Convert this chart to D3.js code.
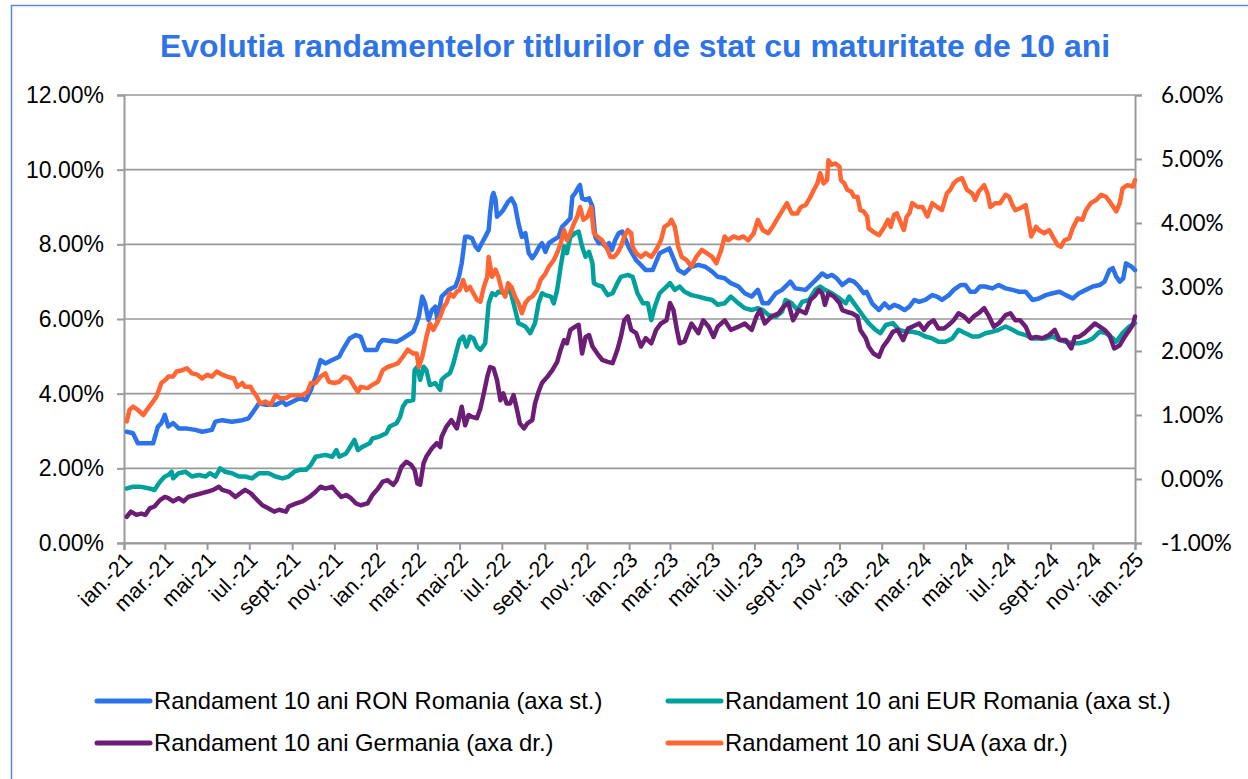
<!DOCTYPE html>
<html><head><meta charset="utf-8">
<script src="https://cdn.jsdelivr.net/npm/d3@7"></script>
<style>
body{margin:0;background:#fff;}
svg{display:block;}
</style></head>
<body>
<svg id="chart" width="1248" height="779"></svg>
<script>
// ---------- DATA ----------
const chartTitle = "Evolutia randamentelor titlurilor de stat cu maturitate de 10 ani";
const seriesNames = [
  "Randament 10 ani RON Romania (axa st.)",
  "Randament 10 ani EUR Romania (axa st.)",
  "Randament 10 ani Germania (axa dr.)",
  "Randament 10 ani SUA (axa dr.)"
];
const leftTicks = [0, 2, 4, 6, 8, 10, 12];
const rightTicks = [-1, 0, 1, 2, 3, 4, 5, 6];
const xTickDates = ["2021-01-01","2021-03-01","2021-05-01","2021-07-01","2021-09-01","2021-11-01",
  "2022-01-01","2022-03-01","2022-05-01","2022-07-01","2022-09-01","2022-11-01",
  "2023-01-01","2023-03-01","2023-05-01","2023-07-01","2023-09-01","2023-11-01",
  "2024-01-01","2024-03-01","2024-05-01","2024-07-01","2024-09-01","2024-11-01","2025-01-01"];
const xTickLabels = ["ian.-21","mar.-21","mai-21","iul.-21","sept.-21","nov.-21",
  "ian.-22","mar.-22","mai-22","iul.-22","sept.-22","nov.-22",
  "ian.-23","mar.-23","mai-23","iul.-23","sept.-23","nov.-23",
  "ian.-24","mar.-24","mai-24","iul.-24","sept.-24","nov.-24","ian.-25"];

// RON Romania, % (left axis)
const ronData = [
["2021-01-05",2.98],["2021-01-14",2.94],["2021-01-21",2.67],["2021-02-12",2.67],["2021-02-19",3.12],
["2021-02-24",3.21],["2021-03-01",3.43],["2021-03-06",3.12],["2021-03-13",3.21],["2021-03-21",3.07],
["2021-03-31",3.07],["2021-04-14",3.03],["2021-04-24",2.98],["2021-05-08",3.03],["2021-05-13",3.25],
["2021-05-23",3.29],["2021-06-06",3.25],["2021-06-21",3.29],["2021-06-30",3.34],["2021-07-07",3.52],
["2021-07-15",3.74],["2021-07-25",3.70],["2021-08-08",3.70],["2021-08-18",3.79],["2021-08-23",3.70],
["2021-09-02",3.79],["2021-09-12",3.88],["2021-09-21",3.83],["2021-09-28",4.10],["2021-10-05",4.46],
["2021-10-12",4.90],["2021-10-19",4.81],["2021-10-29",4.90],["2021-11-08",4.99],["2021-11-13",5.17],
["2021-11-23",5.48],["2021-12-02",5.57],["2021-12-09",5.53],["2021-12-16",5.17],["2022-01-01",5.17],
["2022-01-05",5.35],["2022-01-10",5.44],["2022-01-30",5.39],["2022-02-08",5.48],["2022-02-23",5.66],
["2022-02-28",5.89],["2022-03-03",6.06],["2022-03-08",6.60],["2022-03-12",6.42],["2022-03-17",5.97],
["2022-03-22",6.24],["2022-03-27",6.33],["2022-03-30",5.97],["2022-04-05",6.60],["2022-04-15",6.78],
["2022-04-25",6.87],["2022-04-30",7.13],["2022-05-04",7.49],["2022-05-09",8.20],["2022-05-14",8.20],
["2022-05-19",8.16],["2022-05-24",7.94],["2022-05-28",7.85],["2022-06-02",8.03],["2022-06-07",8.20],
["2022-06-12",8.38],["2022-06-14",8.83],["2022-06-17",9.28],["2022-06-19",9.37],["2022-06-22",9.19],
["2022-06-24",8.74],["2022-06-29",8.83],["2022-07-03",8.92],["2022-07-10",9.14],["2022-07-15",9.23],
["2022-07-20",9.05],["2022-07-25",8.56],["2022-07-30",8.20],["2022-08-04",8.30],["2022-08-09",7.76],
["2022-08-14",7.63],["2022-08-19",7.76],["2022-08-24",7.94],["2022-08-28",8.03],["2022-09-02",7.80],
["2022-09-07",8.03],["2022-09-14",8.12],["2022-09-21",8.20],["2022-09-26",8.47],["2022-10-01",8.56],
["2022-10-08",8.70],["2022-10-11",9.28],["2022-10-15",9.37],["2022-10-20",9.54],["2022-10-22",9.59],
["2022-10-25",9.23],["2022-10-30",9.19],["2022-11-04",9.23],["2022-11-09",9.01],["2022-11-13",8.20],
["2022-11-18",8.03],["2022-11-23",8.03],["2022-11-28",7.94],["2022-12-03",8.03],["2022-12-07",7.85],
["2022-12-12",8.12],["2022-12-17",8.30],["2022-12-22",8.34],["2023-01-01",7.90],["2023-01-11",7.58],
["2023-01-25",7.31],["2023-02-04",7.31],["2023-02-14",7.76],["2023-02-28",7.89],["2023-03-03",7.76],
["2023-03-13",7.31],["2023-03-22",7.22],["2023-04-01",7.40],["2023-04-11",7.45],["2023-04-21",7.40],
["2023-05-01",7.27],["2023-05-09",7.13],["2023-05-19",7.09],["2023-05-28",6.96],["2023-06-08",6.87],
["2023-06-17",6.69],["2023-06-27",6.60],["2023-07-06",6.78],["2023-07-13",6.42],["2023-07-21",6.42],
["2023-08-01",6.69],["2023-08-10",6.78],["2023-08-22",7.00],["2023-08-29",6.82],["2023-09-13",6.78],
["2023-09-23",6.96],["2023-09-30",7.09],["2023-10-07",7.22],["2023-10-14",7.13],["2023-10-21",7.18],
["2023-10-28",7.09],["2023-11-05",6.91],["2023-11-15",7.05],["2023-11-22",7.00],["2023-11-29",6.87],
["2023-12-06",6.69],["2023-12-10",6.73],["2023-12-18",6.42],["2023-12-28",6.24],["2024-01-05",6.42],
["2024-01-12",6.29],["2024-01-19",6.38],["2024-01-26",6.33],["2024-02-03",6.24],["2024-02-10",6.33],
["2024-02-17",6.51],["2024-02-24",6.46],["2024-03-04",6.51],["2024-03-14",6.64],["2024-03-21",6.60],
["2024-03-28",6.51],["2024-04-07",6.64],["2024-04-14",6.78],["2024-04-24",6.91],["2024-05-01",6.91],
["2024-05-08",6.73],["2024-05-15",6.73],["2024-05-22",6.87],["2024-05-29",6.87],["2024-06-09",6.82],
["2024-06-18",6.91],["2024-06-28",6.82],["2024-07-08",6.78],["2024-07-17",6.73],["2024-07-27",6.73],
["2024-08-06",6.51],["2024-08-15",6.55],["2024-08-25",6.64],["2024-09-04",6.69],["2024-09-14",6.73],
["2024-09-23",6.64],["2024-10-03",6.55],["2024-10-12",6.69],["2024-10-22",6.78],["2024-11-01",6.87],
["2024-11-11",6.91],["2024-11-18",7.00],["2024-11-25",7.31],["2024-11-30",7.36],["2024-12-05",7.13],
["2024-12-10",7.00],["2024-12-15",7.09],["2024-12-19",7.49],["2024-12-27",7.40],["2025-01-01",7.31]
];

// EUR Romania, % (left axis)
const eurData = [
["2021-01-05",1.46],["2021-01-14",1.51],["2021-01-24",1.51],["2021-02-07",1.46],["2021-02-14",1.42],
["2021-02-22",1.64],["2021-03-01",1.78],["2021-03-06",1.82],["2021-03-11",1.91],["2021-03-13",1.73],
["2021-03-21",1.87],["2021-03-31",1.91],["2021-04-09",1.78],["2021-04-19",1.82],["2021-04-29",1.78],
["2021-05-05",1.87],["2021-05-13",1.78],["2021-05-20",2.00],["2021-05-27",1.91],["2021-06-06",1.87],
["2021-06-16",1.78],["2021-06-25",1.78],["2021-07-05",1.73],["2021-07-15",1.87],["2021-07-29",1.87],
["2021-08-08",1.78],["2021-08-18",1.73],["2021-08-27",1.78],["2021-09-04",1.91],["2021-09-12",1.96],
["2021-09-21",1.96],["2021-09-28",2.09],["2021-10-05",2.31],["2021-10-19",2.36],["2021-10-29",2.31],
["2021-11-04",2.49],["2021-11-08",2.31],["2021-11-18",2.40],["2021-11-27",2.67],["2021-11-30",2.76],
["2021-12-05",2.49],["2021-12-12",2.58],["2021-12-22",2.67],["2021-12-26",2.80],["2022-01-05",2.85],
["2022-01-15",2.94],["2022-01-20",3.12],["2022-01-30",3.21],["2022-02-04",3.38],["2022-02-08",3.65],
["2022-02-13",3.79],["2022-02-23",3.83],["2022-02-25",4.63],["2022-03-01",4.72],["2022-03-05",4.37],
["2022-03-10",4.72],["2022-03-14",4.63],["2022-03-19",4.23],["2022-03-27",4.28],["2022-04-03",4.10],
["2022-04-05",4.37],["2022-04-10",4.46],["2022-04-17",4.55],["2022-04-22",4.81],["2022-04-27",5.17],
["2022-05-01",5.44],["2022-05-06",5.53],["2022-05-11",5.26],["2022-05-16",5.53],["2022-05-21",5.48],
["2022-05-26",5.26],["2022-05-31",5.17],["2022-06-07",5.35],["2022-06-12",6.42],["2022-06-17",6.69],
["2022-06-22",6.64],["2022-06-26",6.73],["2022-07-06",6.69],["2022-07-13",6.78],["2022-07-18",6.42],
["2022-07-25",5.89],["2022-08-04",5.80],["2022-08-11",5.62],["2022-08-18",5.89],["2022-08-23",6.42],
["2022-08-28",6.69],["2022-09-02",6.64],["2022-09-10",6.60],["2022-09-14",6.42],["2022-09-19",6.78],
["2022-09-24",7.40],["2022-09-29",7.94],["2022-10-03",7.76],["2022-10-08",8.20],["2022-10-15",8.30],
["2022-10-20",8.34],["2022-10-25",7.94],["2022-10-30",7.67],["2022-11-04",7.80],["2022-11-09",7.49],
["2022-11-11",6.96],["2022-11-16",6.91],["2022-11-23",6.87],["2022-12-01",6.64],["2022-12-08",6.69],
["2022-12-15",6.96],["2022-12-20",7.13],["2022-12-30",7.18],["2023-01-06",7.13],["2023-01-13",6.69],
["2023-01-21",6.42],["2023-01-28",6.42],["2023-02-02",5.97],["2023-02-07",6.33],["2023-02-14",6.69],
["2023-02-24",6.87],["2023-03-01",6.96],["2023-03-08",6.78],["2023-03-15",6.87],["2023-03-22",6.73],
["2023-04-01",6.64],["2023-04-11",6.60],["2023-04-21",6.55],["2023-05-01",6.51],["2023-05-09",6.38],
["2023-05-19",6.42],["2023-05-28",6.60],["2023-06-08",6.42],["2023-06-17",6.29],["2023-06-27",6.24],
["2023-07-06",6.29],["2023-07-13",6.24],["2023-07-21",6.11],["2023-08-01",6.06],["2023-08-10",6.20],
["2023-08-15",6.51],["2023-08-24",6.42],["2023-09-01",6.24],["2023-09-08",6.46],["2023-09-18",6.51],
["2023-09-27",6.78],["2023-10-04",6.87],["2023-10-11",6.78],["2023-10-21",6.69],["2023-11-01",6.55],
["2023-11-10",6.42],["2023-11-15",6.60],["2023-11-22",6.42],["2023-11-29",6.24],["2023-12-06",6.06],
["2023-12-13",5.89],["2023-12-23",5.71],["2023-12-30",5.62],["2024-01-07",5.84],["2024-01-17",5.89],
["2024-01-26",5.71],["2024-02-05",5.66],["2024-02-14",5.66],["2024-02-24",5.62],["2024-03-04",5.53],
["2024-03-14",5.48],["2024-03-23",5.39],["2024-04-02",5.39],["2024-04-12",5.48],["2024-04-21",5.71],
["2024-05-01",5.62],["2024-05-11",5.53],["2024-05-20",5.53],["2024-05-30",5.62],["2024-06-09",5.66],
["2024-06-18",5.71],["2024-06-28",5.80],["2024-07-08",5.71],["2024-07-17",5.62],["2024-07-27",5.57],
["2024-08-06",5.48],["2024-08-15",5.48],["2024-08-25",5.48],["2024-09-04",5.53],["2024-09-14",5.44],
["2024-09-23",5.39],["2024-10-03",5.35],["2024-10-12",5.35],["2024-10-22",5.39],["2024-11-01",5.48],
["2024-11-11",5.66],["2024-11-20",5.62],["2024-11-30",5.48],["2024-12-05",5.39],["2024-12-14",5.62],
["2024-12-24",5.80],["2025-01-01",5.89]
];

// Germania, % (right axis)
const deData = [
["2021-01-05",-0.59],["2021-01-11",-0.51],["2021-01-19",-0.56],["2021-01-26",-0.54],["2021-02-01",-0.56],
["2021-02-07",-0.46],["2021-02-14",-0.43],["2021-02-22",-0.33],["2021-03-01",-0.28],["2021-03-06",-0.30],
["2021-03-13",-0.35],["2021-03-21",-0.30],["2021-03-28",-0.35],["2021-04-04",-0.28],["2021-04-14",-0.25],
["2021-04-24",-0.22],["2021-05-01",-0.20],["2021-05-10",-0.17],["2021-05-18",-0.12],["2021-05-23",-0.17],
["2021-06-02",-0.20],["2021-06-11",-0.28],["2021-06-21",-0.20],["2021-06-25",-0.17],["2021-07-03",-0.22],
["2021-07-10",-0.30],["2021-07-20",-0.41],["2021-07-29",-0.46],["2021-08-06",-0.51],["2021-08-13",-0.48],
["2021-08-23",-0.51],["2021-08-27",-0.43],["2021-09-07",-0.38],["2021-09-16",-0.35],["2021-09-26",-0.28],
["2021-10-05",-0.20],["2021-10-12",-0.12],["2021-10-19",-0.15],["2021-10-29",-0.12],["2021-11-04",-0.20],
["2021-11-11",-0.28],["2021-11-18",-0.25],["2021-11-25",-0.30],["2021-12-02",-0.38],["2021-12-09",-0.41],
["2021-12-19",-0.38],["2021-12-26",-0.25],["2022-01-03",-0.15],["2022-01-10",-0.04],["2022-01-17",-0.02],
["2022-01-25",-0.09],["2022-01-30",-0.02],["2022-02-06",0.19],["2022-02-13",0.27],["2022-02-20",0.22],
["2022-02-25",0.14],["2022-03-01",-0.07],["2022-03-05",-0.09],["2022-03-10",0.25],["2022-03-14",0.35],
["2022-03-22",0.48],["2022-03-29",0.56],["2022-04-03",0.50],["2022-04-05",0.66],["2022-04-12",0.82],
["2022-04-19",0.92],["2022-04-27",0.79],["2022-05-04",1.13],["2022-05-09",0.84],["2022-05-14",1.00],
["2022-05-19",0.97],["2022-05-26",0.95],["2022-05-31",1.10],["2022-06-05",1.34],["2022-06-10",1.60],
["2022-06-14",1.75],["2022-06-19",1.73],["2022-06-24",1.55],["2022-06-29",1.23],["2022-07-03",1.34],
["2022-07-08",1.18],["2022-07-13",1.18],["2022-07-18",1.31],["2022-07-23",1.08],["2022-07-27",0.87],
["2022-08-02",0.79],["2022-08-07",0.87],["2022-08-14",0.92],["2022-08-18",1.18],["2022-08-23",1.36],
["2022-08-28",1.50],["2022-09-05",1.60],["2022-09-12",1.70],["2022-09-19",1.83],["2022-09-24",2.02],
["2022-09-29",2.17],["2022-10-03",2.12],["2022-10-08",2.33],["2022-10-15",2.38],["2022-10-20",2.41],
["2022-10-25",1.96],["2022-10-30",2.22],["2022-11-04",2.25],["2022-11-09",2.07],["2022-11-16",1.96],
["2022-11-23",1.86],["2022-12-01",1.83],["2022-12-08",1.81],["2022-12-15",2.02],["2022-12-20",2.22],
["2022-12-25",2.48],["2022-12-30",2.54],["2023-01-04",2.33],["2023-01-11",2.28],["2023-01-18",2.07],
["2023-01-25",2.20],["2023-02-02",2.12],["2023-02-09",2.33],["2023-02-16",2.43],["2023-02-24",2.48],
["2023-03-01",2.75],["2023-03-06",2.64],["2023-03-11",2.33],["2023-03-15",2.12],["2023-03-22",2.15],
["2023-04-01",2.43],["2023-04-11",2.28],["2023-04-18",2.48],["2023-04-26",2.38],["2023-05-03",2.22],
["2023-05-09",2.38],["2023-05-19",2.48],["2023-05-28",2.33],["2023-06-08",2.38],["2023-06-17",2.43],
["2023-06-27",2.33],["2023-07-04",2.54],["2023-07-09",2.64],["2023-07-16",2.43],["2023-07-26",2.54],
["2023-08-05",2.59],["2023-08-12",2.69],["2023-08-19",2.75],["2023-08-26",2.48],["2023-09-03",2.64],
["2023-09-13",2.59],["2023-09-20",2.80],["2023-09-27",2.87],["2023-10-02",2.95],["2023-10-07",2.90],
["2023-10-11",2.72],["2023-10-16",2.90],["2023-10-24",2.85],["2023-11-01",2.75],["2023-11-05",2.64],
["2023-11-12",2.61],["2023-11-19",2.59],["2023-11-27",2.54],["2023-12-01",2.33],["2023-12-09",2.20],
["2023-12-13",2.07],["2023-12-20",1.96],["2023-12-28",1.91],["2024-01-03",2.07],["2024-01-10",2.17],
["2024-01-17",2.30],["2024-01-24",2.33],["2024-02-01",2.17],["2024-02-08",2.35],["2024-02-14",2.38],
["2024-02-24",2.43],["2024-03-02",2.33],["2024-03-09",2.43],["2024-03-16",2.48],["2024-03-23",2.35],
["2024-03-31",2.35],["2024-04-07",2.41],["2024-04-14",2.48],["2024-04-21",2.59],["2024-04-29",2.54],
["2024-05-06",2.46],["2024-05-13",2.54],["2024-05-20",2.59],["2024-05-28",2.67],["2024-06-04",2.54],
["2024-06-11",2.38],["2024-06-18",2.43],["2024-06-28",2.56],["2024-07-05",2.59],["2024-07-12",2.48],
["2024-07-19",2.48],["2024-07-27",2.38],["2024-08-03",2.20],["2024-08-11",2.22],["2024-08-20",2.20],
["2024-08-30",2.25],["2024-09-07",2.33],["2024-09-14",2.17],["2024-09-23",2.17],["2024-10-01",2.04],
["2024-10-06",2.22],["2024-10-12",2.22],["2024-10-20",2.28],["2024-10-27",2.35],["2024-11-04",2.43],
["2024-11-11",2.38],["2024-11-18",2.33],["2024-11-25",2.25],["2024-12-02",2.04],["2024-12-10",2.09],
["2024-12-17",2.22],["2024-12-24",2.33],["2024-12-29",2.41],["2025-01-01",2.54]
];

// SUA, % (right axis)
const usData = [
["2021-01-05",0.90],["2021-01-09",1.08],["2021-01-14",1.13],["2021-01-21",1.08],["2021-01-29",1.00],
["2021-02-03",1.08],["2021-02-10",1.18],["2021-02-17",1.29],["2021-02-24",1.50],["2021-03-02",1.55],
["2021-03-06",1.60],["2021-03-13",1.60],["2021-03-18",1.68],["2021-03-26",1.70],["2021-04-02",1.73],
["2021-04-09",1.65],["2021-04-17",1.63],["2021-04-24",1.57],["2021-05-01",1.63],["2021-05-08",1.60],
["2021-05-15",1.68],["2021-05-23",1.63],["2021-05-30",1.60],["2021-06-09",1.57],["2021-06-14",1.44],
["2021-06-21",1.50],["2021-06-25",1.44],["2021-07-03",1.44],["2021-07-07",1.36],["2021-07-12",1.29],
["2021-07-17",1.18],["2021-07-25",1.21],["2021-08-01",1.16],["2021-08-08",1.31],["2021-08-15",1.26],
["2021-08-23",1.26],["2021-08-30",1.31],["2021-09-09",1.31],["2021-09-16",1.31],["2021-09-23",1.36],
["2021-09-28",1.50],["2021-10-05",1.50],["2021-10-12",1.60],["2021-10-19",1.65],["2021-10-24",1.52],
["2021-11-01",1.50],["2021-11-08",1.52],["2021-11-15",1.60],["2021-11-23",1.57],["2021-11-30",1.44],
["2021-12-05",1.36],["2021-12-09",1.44],["2021-12-19",1.42],["2021-12-26",1.47],["2022-01-03",1.52],
["2022-01-10",1.70],["2022-01-17",1.75],["2022-01-25",1.78],["2022-02-01",1.81],["2022-02-08",1.91],
["2022-02-15",2.02],["2022-02-23",1.96],["2022-02-28",1.96],["2022-03-03",1.75],["2022-03-08",1.91],
["2022-03-14",2.22],["2022-03-19",2.43],["2022-03-24",2.33],["2022-03-29",2.43],["2022-04-03",2.54],
["2022-04-08",2.69],["2022-04-12",2.75],["2022-04-17",2.90],["2022-04-22",2.85],["2022-04-27",2.93],
["2022-05-01",2.95],["2022-05-06",3.11],["2022-05-11",2.95],["2022-05-16",3.00],["2022-05-21",2.90],
["2022-05-26",2.80],["2022-05-31",2.77],["2022-06-05",3.00],["2022-06-10",3.16],["2022-06-12",3.47],
["2022-06-17",3.16],["2022-06-22",3.27],["2022-06-26",3.16],["2022-07-01",2.95],["2022-07-06",2.85],
["2022-07-10",3.06],["2022-07-15",3.00],["2022-07-20",2.85],["2022-07-25",2.75],["2022-07-30",2.59],
["2022-08-04",2.75],["2022-08-09",2.82],["2022-08-14",2.85],["2022-08-21",2.95],["2022-08-26",3.11],
["2022-09-02",3.21],["2022-09-07",3.32],["2022-09-14",3.42],["2022-09-19",3.53],["2022-09-24",3.68],
["2022-09-29",3.89],["2022-10-03",3.73],["2022-10-08",3.84],["2022-10-13",3.99],["2022-10-18",4.10],
["2022-10-22",4.25],["2022-10-27",4.05],["2022-11-02",4.10],["2022-11-07",4.25],["2022-11-11",3.84],
["2022-11-16",3.79],["2022-11-23",3.73],["2022-12-01",3.58],["2022-12-05",3.47],["2022-12-10",3.47],
["2022-12-15",3.53],["2022-12-20",3.63],["2022-12-25",3.79],["2022-12-30",3.89],["2023-01-04",3.84],
["2023-01-06",3.63],["2023-01-11",3.53],["2023-01-18",3.47],["2023-01-25",3.53],["2023-02-02",3.47],
["2023-02-09",3.58],["2023-02-16",3.73],["2023-02-21",3.94],["2023-02-28",3.99],["2023-03-03",4.05],
["2023-03-08",3.94],["2023-03-13",3.63],["2023-03-18",3.47],["2023-03-25",3.42],["2023-04-01",3.32],
["2023-04-08",3.47],["2023-04-16",3.58],["2023-04-23",3.53],["2023-05-01",3.47],["2023-05-07",3.37],
["2023-05-14",3.58],["2023-05-19",3.79],["2023-05-24",3.73],["2023-06-01",3.79],["2023-06-08",3.76],
["2023-06-15",3.79],["2023-06-22",3.73],["2023-06-30",3.84],["2023-07-06",4.05],["2023-07-13",3.89],
["2023-07-21",3.84],["2023-07-29",3.97],["2023-08-05",4.10],["2023-08-17",4.31],["2023-08-24",4.15],
["2023-09-01",4.15],["2023-09-06",4.25],["2023-09-13",4.28],["2023-09-20",4.41],["2023-09-25",4.52],
["2023-09-30",4.62],["2023-10-04",4.78],["2023-10-09",4.62],["2023-10-14",4.67],["2023-10-16",4.98],
["2023-10-21",4.91],["2023-10-26",4.93],["2023-11-01",4.88],["2023-11-03",4.67],["2023-11-08",4.62],
["2023-11-12",4.52],["2023-11-18",4.49],["2023-11-22",4.41],["2023-11-27",4.41],["2023-12-01",4.20],
["2023-12-06",4.18],["2023-12-11",4.10],["2023-12-13",3.92],["2023-12-20",3.86],["2023-12-28",3.81],
["2024-01-05",3.94],["2024-01-10",4.05],["2024-01-14",3.94],["2024-01-19",4.13],["2024-01-23",4.15],
["2024-01-29",3.99],["2024-02-02",3.89],["2024-02-06",4.10],["2024-02-10",4.15],["2024-02-14",4.31],
["2024-02-22",4.25],["2024-02-29",4.25],["2024-03-07",4.10],["2024-03-14",4.31],["2024-03-21",4.25],
["2024-03-28",4.20],["2024-04-04",4.46],["2024-04-09",4.52],["2024-04-14",4.62],["2024-04-19",4.67],
["2024-04-26",4.70],["2024-05-03",4.52],["2024-05-11",4.46],["2024-05-15",4.36],["2024-05-20",4.49],
["2024-05-28",4.59],["2024-06-02",4.46],["2024-06-06",4.25],["2024-06-13",4.31],["2024-06-20",4.31],
["2024-06-28",4.44],["2024-07-03",4.41],["2024-07-08",4.28],["2024-07-12",4.20],["2024-07-19",4.23],
["2024-07-27",4.28],["2024-08-01",3.99],["2024-08-04",3.79],["2024-08-11",3.94],["2024-08-15",3.89],
["2024-08-23",3.84],["2024-08-30",3.89],["2024-09-04",3.79],["2024-09-11",3.66],["2024-09-16",3.63],
["2024-09-21",3.73],["2024-09-28",3.76],["2024-10-03",3.92],["2024-10-10",4.07],["2024-10-17",4.05],
["2024-10-22",4.20],["2024-10-29",4.31],["2024-11-06",4.36],["2024-11-13",4.44],["2024-11-20",4.41],
["2024-11-27",4.31],["2024-12-05",4.18],["2024-12-10",4.31],["2024-12-14",4.54],["2024-12-21",4.59],
["2024-12-29",4.57],["2025-01-01",4.67]
];

const seriesColors = ["#2b72eb", "#00a19c", "#6c1d76", "#ff6633"];

// ---------- CHART ----------
const svg = d3.select("#chart");
const W = 1248, H = 779;
const m = {left: 124, right: 1135, top: 95, bottom: 543};
const parse = d3.timeParse("%Y-%m-%d");

svg.append("rect").attr("x", 0).attr("y", 0).attr("width", W).attr("height", H).attr("fill", "#fff");
// outer chart border
svg.append("rect").attr("x", 11.5).attr("y", 5.5).attr("width", W + 10).attr("height", H + 10)
  .attr("fill", "none").attr("stroke", "#5b8bc9").attr("stroke-width", 1.5);

const x = d3.scaleTime().domain([parse("2021-01-01"), parse("2025-01-01")]).range([m.left, m.right]);
const yL = d3.scaleLinear().domain([0, 12]).range([m.bottom, m.top]);
const yR = d3.scaleLinear().domain([-1, 6]).range([m.bottom, m.top]);

const gridColor = "#9a9a9a";
// horizontal gridlines
svg.append("g").selectAll("line").data(leftTicks).join("line")
  .attr("x1", m.left).attr("x2", m.right)
  .attr("y1", d => yL(d)).attr("y2", d => yL(d))
  .attr("stroke", gridColor).attr("stroke-width", 1.6);

const pct = v => v.toFixed(2) + "%";

// left axis
const axL = svg.append("g").attr("transform", `translate(${m.left},0)`)
  .call(d3.axisLeft(yL).tickValues(leftTicks).tickFormat(pct).tickSize(7).tickPadding(13));
axL.selectAll("text").attr("font-family", "'Liberation Sans', Arial, sans-serif").attr("font-size", 23).attr("fill", "#000");

// right axis
const axR = svg.append("g").attr("transform", `translate(${m.right},0)`)
  .call(d3.axisRight(yR).tickValues(rightTicks).tickFormat(pct).tickSize(7).tickPadding(19));
axR.selectAll("text").attr("font-family", "Lato, 'Open Sans', sans-serif").attr("font-size", 22.5).attr("fill", "#000");

// bottom axis
const xTicks = xTickDates.map(parse);
const axB = svg.append("g").attr("transform", `translate(0,${m.bottom})`)
  .call(d3.axisBottom(x).tickValues(xTicks).tickFormat((d, i) => xTickLabels[i]).tickSize(7));
axB.selectAll("text")
  .attr("font-family", "'Liberation Sans', Arial, sans-serif").attr("font-size", 21.5).attr("fill", "#000")
  .attr("text-anchor", "end")
  .attr("transform", "translate(4,13) rotate(-45)")
  .attr("dy", "0.35em").attr("y", 0).attr("x", 0);

[axL, axR, axB].forEach(a => {
  a.select(".domain").attr("stroke", gridColor).attr("stroke-width", 2);
  a.selectAll(".tick line").attr("stroke", gridColor).attr("stroke-width", 2);
});

// lines
const series = [
  {data: ronData, y: yL},
  {data: eurData, y: yL},
  {data: deData, y: yR},
  {data: usData, y: yR}
];
series.forEach((s, i) => {
  const line = d3.line().x(d => x(parse(d[0]))).y(d => s.y(d[1])).curve(d3.curveLinear);
  svg.append("path").datum(s.data).attr("d", line)
    .attr("fill", "none").attr("stroke", seriesColors[i]).attr("stroke-width", 4.5)
    .attr("stroke-linejoin", "round").attr("stroke-linecap", "round");
});

// title
svg.append("text").attr("x", 635).attr("y", 57).attr("text-anchor", "middle")
  .attr("font-family", "'Liberation Sans', Arial, sans-serif").attr("font-weight", "bold")
  .attr("font-size", 31).attr("fill", "#2f74e6")
  .attr("textLength", 950).attr("lengthAdjust", "spacingAndGlyphs")
  .text(chartTitle);

// legend
const legendPos = [[97, 701], [668, 701], [97, 743], [668, 743]];
seriesNames.forEach((name, i) => {
  const [lx, ly] = legendPos[i];
  svg.append("line").attr("x1", lx).attr("x2", lx + 53).attr("y1", ly).attr("y2", ly)
    .attr("stroke", seriesColors[i]).attr("stroke-width", 5).attr("stroke-linecap", "round");
  svg.append("text").attr("x", lx + 57).attr("y", ly).attr("dy", "0.35em")
    .attr("font-family", "'Liberation Sans', Arial, sans-serif").attr("font-size", 23.8).attr("fill", "#000")
    .text(name);
});
</script>
</body></html>
